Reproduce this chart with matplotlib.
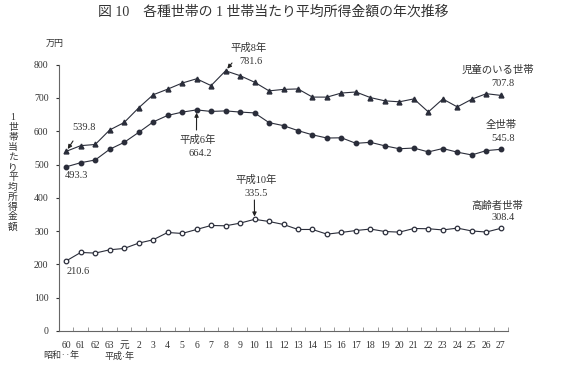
import numpy as np
import matplotlib
matplotlib.use("Agg")
import matplotlib.pyplot as plt

plt.rcParams['font.family'] = ['Liberation Serif', 'Noto Sans CJK JP', 'DejaVu Sans']

# 年次（昭和60年〜平成27年）
years = ['60', '61', '62', '63', '元'] + [str(i) for i in range(2, 28)]

# 児童のいる世帯
child = [539.8, 556.8, 560.3, 603.9, 626.4, 670.4, 709.6, 726.5, 744.8, 757.7,
         737.2, 781.6, 767.1, 747.4, 721.4, 725.8, 727.2, 702.7, 702.6, 714.9,
         718.0, 701.2, 691.4, 688.5, 697.3, 658.1, 697.0, 673.2, 696.3, 712.9, 707.8]
# 全世帯
allh = [493.3, 505.6, 513.7, 545.9, 566.7, 596.6, 628.0, 647.6, 657.5, 664.2,
        659.6, 661.2, 657.7, 655.2, 626.0, 616.9, 602.0, 589.3, 579.7, 580.4,
        563.8, 566.8, 556.2, 547.5, 549.6, 538.0, 548.2, 537.2, 528.9, 541.9, 545.8]
# 高齢者世帯
elder = [210.6, 236.0, 234.0, 244.0, 248.0, 264.0, 274.0, 296.0, 293.0, 305.0,
         317.0, 316.0, 324.0, 335.5, 329.0, 320.0, 305.0, 305.0, 290.9, 296.1,
         301.9, 306.3, 298.9, 297.0, 307.9, 307.2, 303.6, 309.1, 300.5, 297.3, 308.4]

W, H = 563, 366
fig = plt.figure(figsize=(W / 100, H / 100), dpi=100)
ax = fig.add_axes([59 / W, 1 - 331 / H, 449 / W, (331 - 64.7) / H])

x = np.arange(len(years))
lc = '#2a2d3a'
ax.plot(x, child, color=lc, lw=0.8, marker='^', ms=3.5, mfc=lc, mec=lc)
ax.plot(x, allh, color=lc, lw=0.8, marker='o', ms=3.2, mfc=lc, mec=lc)
ax.plot(x, elder, color=lc, lw=0.8, marker='o', ms=3.3, mfc='white', mec=lc, mew=0.9)

ax.set_xlim(-0.5, 30.5)
ax.set_ylim(0, 800)
ax.spines['top'].set_visible(False)
ax.spines['right'].set_visible(False)
for s in ('left', 'bottom'):
    ax.spines[s].set_color('#666666')
    ax.spines[s].set_linewidth(0.8)

ax.set_xticks(x)
ax.set_xticklabels(years)
ax.set_xticks(np.arange(-0.5, 31, 1), minor=True)
ax.tick_params(axis='x', which='major', length=0, pad=7, labelsize=7, colors='#333333')
ax.tick_params(axis='x', which='minor', length=3, direction='in', color='#888888')
ax.set_yticks(range(0, 801, 100))
ax.tick_params(axis='y', length=2.5, direction='out', pad=5, labelsize=7,
               colors='#333333')

tc = '#333333'
fs = 7.5

def ann(text, xy, xytext):
    ax.annotate(text, xy=xy, xytext=xytext, ha='center', va='center',
                fontsize=fs, color=tc,
                arrowprops=dict(arrowstyle='-|>', color='#222222', lw=0.8,
                                mutation_scale=6, shrinkA=0, shrinkB=2))

def px(xp, yp):
    return ((xp - 59) / 449 * 31 - 0.5, (331 - yp) / (331 - 64.7) * 800)

# 注記
ax.annotate('', xy=(0, child[0]), xytext=px(73, 141),
            arrowprops=dict(arrowstyle='-|>', color='#222222', lw=0.8,
                            mutation_scale=6, shrinkA=0, shrinkB=2))
ax.text(*px(84, 128), '539.8', fontsize=fs, color=tc, ha='center', va='center')
ax.text(*px(76, 176), '493.3', fontsize=fs, color=tc, ha='center', va='center')
ax.text(*px(78, 272), '210.6', fontsize=fs, color=tc, ha='center', va='center')

ax.annotate('', xy=(11, child[11]), xytext=px(232, 63),
            arrowprops=dict(arrowstyle='-|>', color='#222222', lw=0.8,
                            mutation_scale=6, shrinkA=0, shrinkB=2))
ax.text(*px(249, 48), '平成8年', fontsize=fs, color=tc, ha='center', va='center')
ax.text(*px(251, 61), '781.6', fontsize=fs, color=tc, ha='center', va='center')

ax.annotate('', xy=(9, allh[9]), xytext=px(196.5, 130),
            arrowprops=dict(arrowstyle='-|>', color='#222222', lw=0.8,
                            mutation_scale=6, shrinkA=0, shrinkB=2))
ax.text(*px(198, 140), '平成6年', fontsize=fs, color=tc, ha='center', va='center')
ax.text(*px(200, 153), '664.2', fontsize=fs, color=tc, ha='center', va='center')

ax.annotate('', xy=(13, elder[13]), xytext=px(254.4, 200),
            arrowprops=dict(arrowstyle='-|>', color='#222222', lw=0.8,
                            mutation_scale=6, shrinkA=0, shrinkB=2))
ax.text(*px(256, 180), '平成10年', fontsize=fs, color=tc, ha='center', va='center')
ax.text(*px(256, 194), '335.5', fontsize=fs, color=tc, ha='center', va='center')

ax.text(*px(498, 70), '児童のいる世帯', fontsize=fs, color=tc, ha='center', va='center')
ax.text(*px(503, 84), '707.8', fontsize=fs, color=tc, ha='center', va='center')
ax.text(*px(501, 125), '全世帯', fontsize=fs, color=tc, ha='center', va='center')
ax.text(*px(503, 139), '545.8', fontsize=fs, color=tc, ha='center', va='center')
ax.text(*px(497, 206), '高齢者世帯', fontsize=fs, color=tc, ha='center', va='center')
ax.text(*px(503, 218), '308.4', fontsize=fs, color=tc, ha='center', va='center')

# タイトル・軸ラベル
fig.text(273 / W, 1 - 12 / H, '図 10　各種世帯の 1 世帯当たり平均所得金額の年次推移',
         fontsize=10, color='#333333', ha='center', va='center')
fig.text(55 / W, 1 - 44 / H, '万円', fontsize=6.5, color=tc, ha='center', va='center')
ylab = '1世帯当たり平均所得金額'
for i, ch in enumerate(ylab):
    fig.text(13 / W, 1 - (118 + i * 9.9) / H, ch, fontsize=7, color=tc,
             ha='center', va='center')
fig.text(61 / W, 1 - 356 / H, '昭和‥年', fontsize=6.5, color=tc, ha='center', va='center')
fig.text(120 / W, 1 - 356 / H, '平成·年', fontsize=6.5, color=tc, ha='center', va='center')

fig.savefig('out.png', dpi=100)
